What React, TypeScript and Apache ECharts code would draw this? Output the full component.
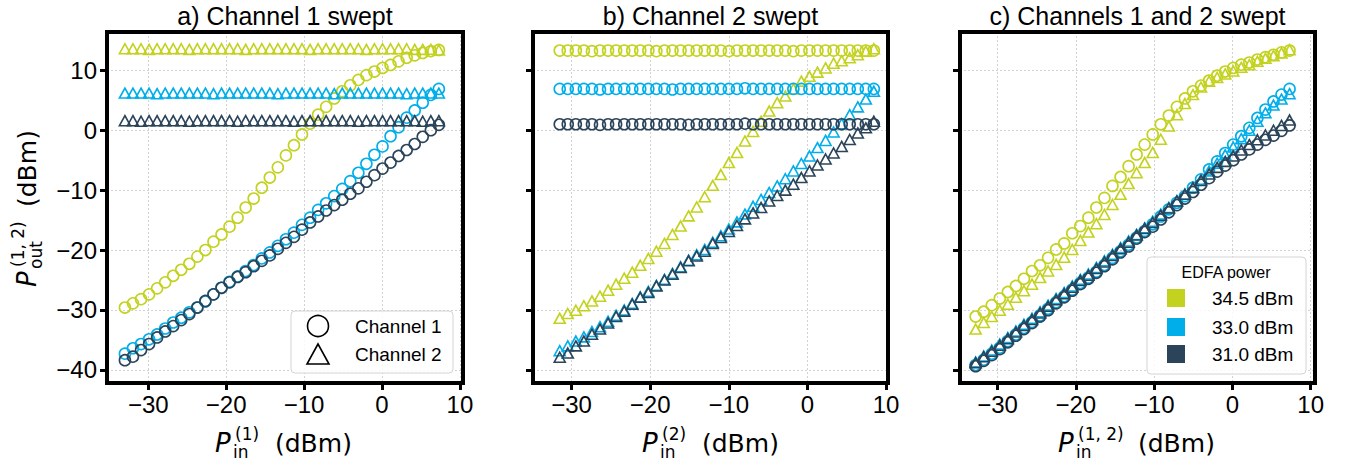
import React, { useEffect, useRef } from "react";
import * as echarts from "echarts";

// ---------- data ----------
const xSweptA = [-33.0, -31.97, -30.93, -29.9, -28.87, -27.83, -26.8, -25.77, -24.73, -23.7, -22.67, -21.63, -20.6, -19.57, -18.53, -17.5, -16.47, -15.43, -14.4, -13.37, -12.33, -11.3, -10.27, -9.23, -8.2, -7.17, -6.13, -5.1, -4.07, -3.03, -2.0, -0.97, 0.07, 1.1, 2.13, 3.17, 4.2, 5.23, 6.27, 7.3];
const xSweptB = [-31.5, -30.48, -29.45, -28.43, -27.4, -26.38, -25.35, -24.33, -23.3, -22.28, -21.26, -20.23, -19.21, -18.18, -17.16, -16.13, -15.11, -14.08, -13.06, -12.04, -11.01, -9.99, -8.96, -7.94, -6.91, -5.89, -4.86, -3.84, -2.81, -1.79, -0.77, 0.26, 1.28, 2.31, 3.33, 4.36, 5.38, 6.41, 7.43, 8.45];
const xSweptC = [-32.8, -31.77, -30.74, -29.72, -28.69, -27.66, -26.63, -25.6, -24.57, -23.55, -22.52, -21.49, -20.46, -19.43, -18.4, -17.38, -16.35, -15.32, -14.29, -13.26, -12.24, -11.21, -10.18, -9.15, -8.12, -7.09, -6.07, -5.04, -4.01, -2.98, -1.95, -0.92, 0.1, 1.13, 2.16, 3.19, 4.22, 5.25, 6.27, 7.3];

// panel a (channel 1 swept)
const aCh1_345 = [-29.6, -28.9, -28.2, -27.4, -26.4, -25.4, -24.3, -23.3, -22.3, -21.1, -20.0, -18.6, -17.4, -16.1, -14.6, -12.9, -11.4, -9.6, -7.9, -6.2, -4.2, -2.5, -0.7, 1.1, 2.6, 3.9, 5.3, 6.5, 7.5, 8.4, 9.2, 9.8, 10.4, 10.9, 11.5, 12.1, 12.5, 12.9, 13.2, 13.4];
const aCh1_330 = [-37.3, -36.4, -35.7, -34.9, -34.1, -33.1, -32.1, -31.3, -30.4, -29.6, -28.6, -27.4, -26.3, -25.3, -24.4, -23.5, -22.5, -21.4, -20.4, -19.3, -18.2, -17.1, -15.8, -14.6, -13.3, -12.2, -11.0, -9.8, -8.5, -7.1, -5.6, -4.1, -2.7, -1.0, 0.5, 2.1, 3.3, 4.6, 5.9, 6.9];
const aCh1_310 = [-38.4, -37.8, -36.7, -35.7, -34.6, -33.6, -32.7, -31.7, -30.7, -29.6, -28.5, -27.4, -26.3, -25.4, -24.5, -23.7, -22.7, -21.8, -20.9, -19.8, -18.8, -17.8, -16.6, -15.4, -14.4, -13.4, -12.5, -11.6, -10.6, -9.7, -8.6, -7.5, -6.4, -5.4, -4.3, -3.3, -2.3, -1.1, 0.0, 0.9];
const aCh2_345 = [13.6, 13.6, 13.6, 13.5, 13.6, 13.6, 13.6, 13.6, 13.5, 13.6, 13.6, 13.6, 13.6, 13.6, 13.6, 13.5, 13.6, 13.6, 13.6, 13.6, 13.6, 13.6, 13.6, 13.5, 13.6, 13.6, 13.6, 13.6, 13.6, 13.6, 13.5, 13.6, 13.6, 13.6, 13.6, 13.6, 13.5, 13.5, 13.5, 13.4];
const aCh2_330 = [6.2, 6.2, 6.2, 6.2, 6.1, 6.2, 6.2, 6.2, 6.2, 6.2, 6.2, 6.1, 6.2, 6.2, 6.2, 6.2, 6.2, 6.2, 6.2, 6.1, 6.2, 6.2, 6.2, 6.2, 6.2, 6.2, 6.1, 6.2, 6.2, 6.2, 6.2, 6.2, 6.2, 6.2, 6.2, 6.1, 6.2, 6.2, 6.2, 6.2];
const aCh2_310 = [1.6, 1.6, 1.5, 1.6, 1.6, 1.6, 1.6, 1.6, 1.5, 1.6, 1.6, 1.6, 1.6, 1.6, 1.5, 1.6, 1.6, 1.6, 1.6, 1.6, 1.6, 1.5, 1.6, 1.6, 1.6, 1.6, 1.6, 1.6, 1.6, 1.5, 1.6, 1.6, 1.6, 1.6, 1.6, 1.6, 1.6, 1.5, 1.6, 1.6];

// panel b (channel 2 swept)
const bCh1_345 = [13.3, 13.3, 13.3, 13.3, 13.2, 13.3, 13.3, 13.3, 13.3, 13.3, 13.3, 13.3, 13.2, 13.3, 13.3, 13.3, 13.3, 13.3, 13.3, 13.3, 13.3, 13.2, 13.3, 13.3, 13.3, 13.3, 13.3, 13.3, 13.3, 13.2, 13.3, 13.3, 13.3, 13.3, 13.3, 13.3, 13.3, 13.3, 13.3, 13.3];
const bCh1_330 = [6.9, 6.9, 6.9, 6.9, 6.9, 6.8, 6.9, 6.9, 6.9, 6.9, 6.9, 6.9, 6.9, 6.9, 6.8, 6.9, 6.9, 6.9, 6.9, 6.9, 6.9, 6.9, 6.9, 7.0, 6.9, 6.9, 6.9, 6.9, 6.9, 6.9, 6.9, 6.9, 6.9, 6.9, 6.9, 6.9, 6.9, 6.9, 6.9, 6.9];
const bCh1_310 = [1.0, 1.0, 1.0, 1.0, 1.0, 0.9, 1.0, 1.0, 1.0, 1.0, 1.0, 1.0, 1.0, 1.0, 1.0, 1.0, 0.9, 1.0, 1.0, 1.0, 1.0, 1.0, 1.0, 1.1, 1.0, 1.0, 1.0, 1.0, 1.0, 1.0, 1.0, 1.0, 1.0, 1.0, 1.0, 1.0, 1.0, 1.0, 1.0, 1.0];
const bCh2_345 = [-31.4, -30.6, -30.05, -29.3, -28.5, -27.7, -26.7, -25.7, -24.7, -23.7, -22.55, -21.4, -20.2, -18.9, -17.4, -16.0, -14.3, -12.8, -11.1, -9.2, -7.4, -5.4, -3.7, -1.8, -0.2, 1.5, 3.2, 4.6, 5.7, 6.9, 8.2, 9.0, 9.7, 10.4, 11.2, 11.6, 12.1, 12.6, 13.2, 13.6];
const bCh2_330 = [-36.8, -36.0, -35.2, -34.5, -33.6, -32.8, -31.9, -30.9, -30.0, -28.9, -27.8, -26.9, -25.9, -24.9, -23.9, -22.8, -21.7, -20.8, -19.9, -18.7, -17.6, -16.5, -15.3, -14.0, -12.7, -11.55, -10.4, -9.3, -8.1, -6.8, -5.55, -4.3, -2.9, -1.7, -0.3, 1.1, 2.6, 3.9, 5.2, 6.5];
const bCh2_310 = [-37.9, -37.2, -36.0, -35.2, -34.05, -33.2, -32.2, -31.1, -30.2, -29.05, -27.9, -27.1, -26.0, -25.0, -24.05, -22.9, -21.8, -21.0, -20.2, -18.9, -17.9, -16.9, -15.9, -14.8, -13.8, -12.9, -11.8, -10.9, -10.0, -9.0, -7.9, -6.8, -5.8, -4.8, -3.8, -2.7, -1.55, -0.45, 0.4, 1.5];

// panel c (channels 1 and 2 swept)
const cCh1_345 = [-31.1, -30.3, -29.2, -28.1, -27.0, -26.0, -24.8, -23.5, -22.55, -21.3, -19.9, -18.9, -17.2, -16.0, -14.6, -12.9, -11.3, -9.3, -7.8, -6.0, -4.05, -2.4, -0.7, 1.0, 2.45, 3.9, 5.3, 6.5, 7.45, 8.3, 9.1, 9.8, 10.4, 10.95, 11.3, 11.8, 12.2, 12.6, 13.0, 13.3];
const cCh2_345 = [-33.2, -32.1, -31.1, -30.05, -29.05, -27.9, -26.8, -25.7, -24.6, -23.5, -22.4, -21.2, -19.9, -18.4, -17.0, -15.6, -14.05, -12.4, -10.7, -8.9, -7.1, -5.4, -3.7, -1.5, 0.7, 2.6, 4.45, 5.95, 7.2, 8.2, 8.8, 9.4, 9.9, 10.5, 10.95, 11.5, 12.0, 12.45, 12.9, 13.45];
const cCh1_330 = [-39.2, -38.3, -37.3, -36.3, -35.2, -34.1, -33.0, -32.0, -30.9, -29.8, -28.7, -27.7, -26.6, -25.5, -24.6, -23.6, -22.5, -21.3, -20.2, -19.1, -17.9, -16.8, -15.7, -14.4, -13.2, -12.1, -11.0, -9.6, -8.2, -6.55, -5.2, -3.8, -2.4, -1.0, 0.4, 2.05, 3.45, 4.8, 5.95, 6.9];
const cCh2_330 = [-38.7, -37.7, -36.7, -35.7, -34.6, -33.5, -32.4, -31.4, -30.3, -29.2, -28.1, -27.1, -26.0, -24.9, -24.0, -22.9, -21.8, -20.7, -19.6, -18.5, -17.4, -16.3, -15.2, -14.0, -12.9, -11.8, -10.7, -9.5, -8.2, -6.8, -5.5, -4.1, -2.8, -1.4, 0.0, 1.5, 2.9, 4.2, 5.2, 6.1];
const cCh1_310 = [-39.4, -38.5, -37.55, -36.55, -35.4, -34.3, -33.2, -32.2, -31.1, -30.05, -28.9, -27.9, -26.8, -25.7, -24.8, -23.8, -22.7, -21.55, -20.4, -19.4, -18.1, -17.0, -16.1, -14.9, -13.7, -12.5, -11.4, -10.3, -9.1, -8.0, -6.9, -5.9, -5.0, -4.05, -3.2, -2.4, -1.6, -0.9, -0.1, 0.8];
const cCh2_310 = [-38.8, -37.8, -36.9, -35.9, -34.8, -33.7, -32.6, -31.6, -30.5, -29.4, -28.3, -27.3, -26.2, -25.1, -24.2, -23.1, -22.0, -20.9, -19.8, -18.7, -17.5, -16.4, -15.4, -14.2, -13.0, -11.8, -10.7, -9.6, -8.4, -7.3, -6.2, -5.2, -4.3, -3.3, -2.4, -1.6, -0.8, 0.0, 0.8, 1.7];

const xTicks = [-30, -20, -10, 0, 10];
const yTicks = [-40, -30, -20, -10, 0, 10];
const titles = ["a) Channel 1 swept", "b) Channel 2 swept", "c) Channels 1 and 2 swept"];
const xSup = ["(1)", "(2)", "(1, 2)"];
const powerLabels = ["34.5 dBm", "33.0 dBm", "31.0 dBm"];
const channelLabels = ["Channel 1", "Channel 2"];

// ---------- styles ----------
const COLORS = ["#c3d21f", "#00aeea", "#2b4459"];
const SANS = "'Liberation Sans', Arial, Helvetica, sans-serif";
const MATH = "'DejaVu Sans', sans-serif";
const GRIDS = [
  { left: 107, top: 32, width: 356, height: 351 },
  { left: 533, top: 32, width: 355, height: 351 },
  { left: 960, top: 32, width: 355, height: 351 },
];
const XRANGE = [
  [-35.3, 10.4],
  [-34.9, 10.25],
  [-34.8, 10.55],
];
const YRANGE = [-42.2, 16.4];

const minus = (v: number) => String(v).replace("-", "\u2212");

function pts(xs: number[], ys: number[]) {
  return xs.map((x, i) => [x, ys[i]]);
}

function scatter(panel: number, xs: number[], ys: number[], color: string, shape: "circle" | "triangle") {
  return {
    type: "scatter",
    xAxisIndex: panel,
    yAxisIndex: panel,
    data: pts(xs, ys),
    symbol: shape,
    symbolSize: shape === "circle" ? 11 : [11, 10],
    silent: true,
    itemStyle: { color: "rgba(0,0,0,0)", borderColor: color, borderWidth: 1.6, opacity: 1 },
  };
}

function mathLabel(x: number, y: number, sub: string, sup: string, rotated: boolean) {
  const dBmX = sup.length > 3 ? 80 : 60;
  return {
    type: "group",
    x,
    y,
    rotation: rotated ? Math.PI / 2 : 0,
    z: 120,
    children: [
      { type: "text", x: 0, y: -9, style: { text: "P", fontSize: 26, fontStyle: "italic", fontFamily: MATH, fill: "#000", align: "left", verticalAlign: "middle" } },
      { type: "text", x: 20, y: -18, style: { text: sup, fontSize: 17, fontFamily: MATH, fill: "#000", align: "left", verticalAlign: "middle" } },
      { type: "text", x: 18, y: 0, style: { text: sub, fontSize: 17, fontFamily: MATH, fill: "#000", align: "left", verticalAlign: "middle" } },
      { type: "text", x: dBmX, y: -9, style: { text: "(dBm)", fontSize: 25, fontFamily: MATH, fill: "#000", align: "left", verticalAlign: "middle" } },
    ],
  };
}

export default function App() {
  const ref = useRef<HTMLDivElement>(null);
  useEffect(() => {
    if (!ref.current) return;
    const chart = echarts.init(ref.current, undefined, { renderer: "svg" });

    const xAxes = GRIDS.map((_, i) => ({
      type: "value",
      gridIndex: i,
      position: "bottom",
      min: XRANGE[i][0],
      max: XRANGE[i][1],
      axisLine: { show: false, onZero: false },
      axisTick: { show: true, customValues: xTicks, length: 7, lineStyle: { color: "#000", width: 3 } },
      axisLabel: { show: true, customValues: xTicks, formatter: minus, fontSize: 24, fontFamily: SANS, color: "#000", margin: 9 },
      splitLine: { show: true, lineStyle: { color: "#d2d2d2", width: 1, type: [2, 2] } },
    }));
    const yAxes = GRIDS.map((_, i) => ({
      type: "value",
      gridIndex: i,
      position: "left",
      min: YRANGE[0],
      max: YRANGE[1],
      axisLine: { show: false, onZero: false },
      axisTick: { show: true, customValues: yTicks, length: 7, lineStyle: { color: "#000", width: 3 } },
      axisLabel: { show: i === 0, customValues: yTicks, formatter: minus, fontSize: 24, fontFamily: SANS, color: "#000", margin: 10 },
      splitLine: { show: true, lineStyle: { color: "#d2d2d2", width: 1, type: [2, 2] } },
    }));

    const series: any[] = [
      scatter(0, xSweptA, aCh1_345, COLORS[0], "circle"),
      scatter(0, xSweptA, aCh2_345, COLORS[0], "triangle"),
      scatter(0, xSweptA, aCh1_330, COLORS[1], "circle"),
      scatter(0, xSweptA, aCh2_330, COLORS[1], "triangle"),
      scatter(0, xSweptA, aCh1_310, COLORS[2], "circle"),
      scatter(0, xSweptA, aCh2_310, COLORS[2], "triangle"),
      scatter(1, xSweptB, bCh1_345, COLORS[0], "circle"),
      scatter(1, xSweptB, bCh2_345, COLORS[0], "triangle"),
      scatter(1, xSweptB, bCh1_330, COLORS[1], "circle"),
      scatter(1, xSweptB, bCh2_330, COLORS[1], "triangle"),
      scatter(1, xSweptB, bCh1_310, COLORS[2], "circle"),
      scatter(1, xSweptB, bCh2_310, COLORS[2], "triangle"),
      scatter(2, xSweptC, cCh1_345, COLORS[0], "circle"),
      scatter(2, xSweptC, cCh2_345, COLORS[0], "triangle"),
      scatter(2, xSweptC, cCh1_330, COLORS[1], "circle"),
      scatter(2, xSweptC, cCh2_330, COLORS[1], "triangle"),
      scatter(2, xSweptC, cCh1_310, COLORS[2], "circle"),
      scatter(2, xSweptC, cCh2_310, COLORS[2], "triangle"),
    ];

    const graphics: any[] = [];
    GRIDS.forEach((g, i) => {
      graphics.push({
        type: "rect",
        z: 110,
        shape: { x: g.left, y: g.top, width: g.width, height: g.height },
        style: { fill: "none", stroke: "#000", lineWidth: 4 },
        silent: true,
      });
      graphics.push({
        type: "text",
        z: 110,
        x: g.left + g.width / 2,
        y: 16,
        style: { text: titles[i], fontSize: 25, fontFamily: SANS, fill: "#000", align: "center", verticalAlign: "middle" },
      });
    });
    // axis labels
    graphics.push(mathLabel(215, 452, "in", xSup[0], false));
    graphics.push(mathLabel(642, 452, "in", xSup[1], false));
    graphics.push(mathLabel(1058, 452, "in", xSup[2], false));
    graphics.push(mathLabel(36, 287, "out", "(1, 2)", true));

    // legend a (marker shapes)
    graphics.push({
      type: "rect",
      z: 105,
      shape: { x: 291, y: 311, width: 162, height: 62, r: 4 },
      style: { fill: "rgba(255,255,255,0.85)", stroke: "#d4d4d4", lineWidth: 1 },
    });
    graphics.push({
      type: "circle",
      z: 106,
      shape: { cx: 318, cy: 326, r: 10.5 },
      style: { fill: "none", stroke: "#000", lineWidth: 1.6 },
    });
    graphics.push({
      type: "polygon",
      z: 106,
      shape: { points: [[318, 344], [307, 364], [329, 364]] },
      style: { fill: "none", stroke: "#000", lineWidth: 1.6 },
    });
    channelLabels.forEach((t, i) => {
      graphics.push({
        type: "text",
        z: 106,
        x: 355,
        y: 326 + i * 28,
        style: { text: t, fontSize: 19, fontFamily: SANS, fill: "#000", align: "left", verticalAlign: "middle" },
      });
    });

    // legend c (EDFA power)
    graphics.push({
      type: "rect",
      z: 105,
      shape: { x: 1147, y: 257, width: 159, height: 117, r: 4 },
      style: { fill: "rgba(255,255,255,0.85)", stroke: "#d4d4d4", lineWidth: 1 },
    });
    graphics.push({
      type: "text",
      z: 106,
      x: 1226,
      y: 272,
      style: { text: "EDFA power", fontSize: 16, fontFamily: SANS, fill: "#000", align: "center", verticalAlign: "middle" },
    });
    powerLabels.forEach((t, i) => {
      const cy = [298, 327, 354][i];
      graphics.push({
        type: "rect",
        z: 106,
        shape: { x: 1167, y: cy - 9, width: 18, height: 18 },
        style: { fill: COLORS[i] },
      });
      graphics.push({
        type: "text",
        z: 106,
        x: 1212,
        y: cy,
        style: { text: t, fontSize: 19, fontFamily: SANS, fill: "#000", align: "left", verticalAlign: "middle" },
      });
    });

    chart.setOption({
      animation: false,
      backgroundColor: "#ffffff",
      grid: GRIDS.map((g) => ({ ...g, show: false })),
      xAxis: xAxes,
      yAxis: yAxes,
      series,
      graphic: { elements: graphics },
    });
    return () => chart.dispose();
  }, []);

  return (
    <div
      ref={ref}
      style={{ position: "fixed", left: 0, top: 0, width: 1351, height: 466, background: "#fff" }}
    />
  );
}
